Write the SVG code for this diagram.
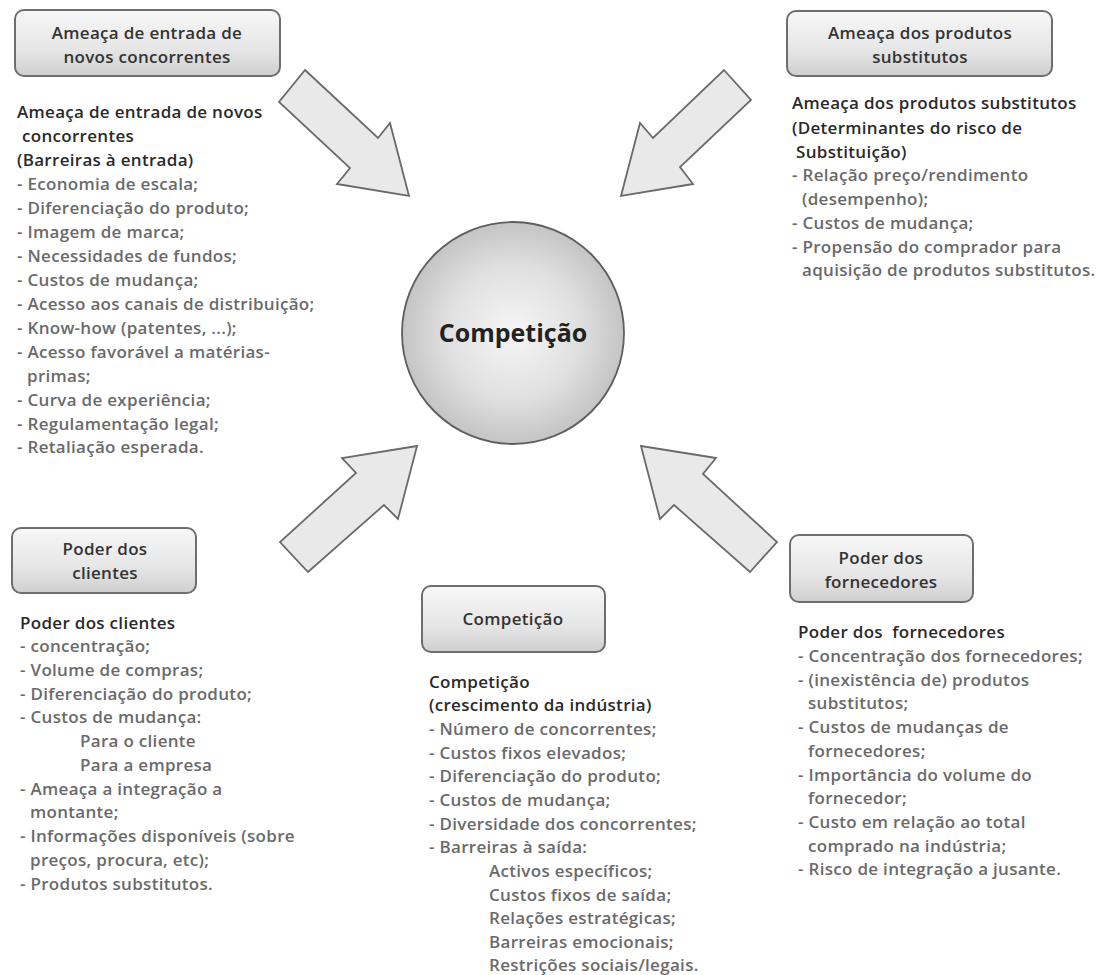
<svg xmlns="http://www.w3.org/2000/svg" width="1105" height="975" viewBox="0 0 1105 975">
<defs>
<linearGradient id="boxg" x1="0" y1="0" x2="0" y2="1">
<stop offset="0" stop-color="#f7f7f7"/>
<stop offset="0.6" stop-color="#e6e6e6"/>
<stop offset="1" stop-color="#cfcfcf"/>
</linearGradient>
<radialGradient id="circg" cx="0.5" cy="0.5" r="0.5">
<stop offset="0" stop-color="#f6f6f6"/>
<stop offset="0.6" stop-color="#e0e0e0"/>
<stop offset="1" stop-color="#c4c4c4"/>
</radialGradient>
<style>
.box{fill:url(#boxg);stroke:#6e6e6e;stroke-width:2}
.bt{font-family:"Open Sans","Liberation Sans",sans-serif;font-weight:600;font-size:17px;letter-spacing:0.3px;fill:#333;text-anchor:middle}
.h{font-family:"Open Sans","Liberation Sans",sans-serif;font-weight:600;font-size:17px;letter-spacing:0.3px;fill:#2a2a2a}
.i{font-family:"Open Sans","Liberation Sans",sans-serif;font-weight:600;font-size:17px;letter-spacing:0.3px;fill:#6a6a6a}
.arr{fill:#e9e9e9;stroke:#6a6a6a;stroke-width:1.8;stroke-linejoin:miter}
.ct{font-family:"Open Sans","Liberation Sans",sans-serif;font-weight:700;font-size:25px;fill:#222;text-anchor:middle}
</style>
</defs>
<rect width="1105" height="975" fill="#ffffff"/>

<g id="connectors">
<polygon class="arr" points="305,70 378,138 390,123 409,196 337,184 350,168 279,102"/>
<polygon class="arr" points="724,70 751,100 680,167 693,184 621,196 640,123 653,138"/>
<polygon class="arr" points="417,446 342,458 356,473 280,542 308,572 384,505 398,519"/>
<polygon class="arr" points="641,446 716,458 703,474 777,542 750,572 674,505 660,519"/>
</g>

<g id="center">
<circle cx="513" cy="333" r="111" fill="url(#circg)" stroke="#5e5e5e" stroke-width="1.8"/>
<text class="ct" x="513" y="342">Competição</text>
</g>

<g id="novos-concorrentes">
<rect class="box" x="15" y="10" width="265" height="66" rx="9"/>
<text class="bt" x="147" y="39">Ameaça de entrada de</text>
<text class="bt" x="147" y="63">novos concorrentes</text>
<text class="h" x="17" y="118">Ameaça de entrada de novos</text>
<text class="h" x="22" y="142">concorrentes</text>
<text class="h" x="17" y="166">(Barreiras à entrada)</text>
<text class="i" x="17" y="190">- Economia de escala;</text>
<text class="i" x="17" y="214">- Diferenciação do produto;</text>
<text class="i" x="17" y="238">- Imagem de marca;</text>
<text class="i" x="17" y="262">- Necessidades de fundos;</text>
<text class="i" x="17" y="286">- Custos de mudança;</text>
<text class="i" x="17" y="310">- Acesso aos canais de distribuição;</text>
<text class="i" x="17" y="334">- Know-how (patentes, ...);</text>
<text class="i" x="17" y="358">- Acesso favorável a matérias-</text>
<text class="i" x="27" y="382">primas;</text>
<text class="i" x="17" y="406">- Curva de experiência;</text>
<text class="i" x="17" y="430">- Regulamentação legal;</text>
<text class="i" x="17" y="453">- Retaliação esperada.</text>
</g>

<g id="substitutos">
<rect class="box" x="787" y="11" width="265" height="65" rx="9"/>
<text class="bt" x="920" y="39">Ameaça dos produtos</text>
<text class="bt" x="920" y="63">substitutos</text>
<text class="h" x="792" y="109">Ameaça dos produtos substitutos</text>
<text class="h" x="792" y="134">(Determinantes do risco de</text>
<text class="h" x="796" y="158">Substituição)</text>
<text class="i" x="792" y="181">- Relação preço/rendimento</text>
<text class="i" x="802" y="205">(desempenho);</text>
<text class="i" x="792" y="229">- Custos de mudança;</text>
<text class="i" x="792" y="253">- Propensão do comprador para</text>
<text class="i" x="802" y="276">aquisição de produtos substitutos.</text>
</g>

<g id="clientes">
<rect class="box" x="12" y="528" width="184" height="65" rx="9"/>
<text class="bt" x="105" y="555">Poder dos</text>
<text class="bt" x="105" y="579">clientes</text>
<text class="h" x="20" y="629">Poder dos clientes</text>
<text class="i" x="20" y="652">- concentração;</text>
<text class="i" x="20" y="676">- Volume de compras;</text>
<text class="i" x="20" y="700">- Diferenciação do produto;</text>
<text class="i" x="20" y="723">- Custos de mudança:</text>
<text class="i" x="80" y="747">Para o cliente</text>
<text class="i" x="80" y="771">Para a empresa</text>
<text class="i" x="20" y="795">- Ameaça a integração a</text>
<text class="i" x="30" y="818">montante;</text>
<text class="i" x="20" y="842">- Informações disponíveis (sobre</text>
<text class="i" x="30" y="866">preços, procura, etc);</text>
<text class="i" x="20" y="890">- Produtos substitutos.</text>
</g>

<g id="competicao">
<rect class="box" x="422" y="586" width="183" height="66" rx="9"/>
<text class="bt" x="513" y="625">Competição</text>
<text class="h" x="429" y="688">Competição</text>
<text class="h" x="429" y="711">(crescimento da indústria)</text>
<text class="i" x="429" y="735">- Número de concorrentes;</text>
<text class="i" x="429" y="759">- Custos fixos elevados;</text>
<text class="i" x="429" y="782">- Diferenciação do produto;</text>
<text class="i" x="429" y="806">- Custos de mudança;</text>
<text class="i" x="429" y="830">- Diversidade dos concorrentes;</text>
<text class="i" x="429" y="853">- Barreiras à saída:</text>
<text class="i" x="489" y="877">Activos específicos;</text>
<text class="i" x="489" y="901">Custos fixos de saída;</text>
<text class="i" x="489" y="924">Relações estratégicas;</text>
<text class="i" x="489" y="948">Barreiras emocionais;</text>
<text class="i" x="489" y="971">Restrições sociais/legais.</text>
</g>

<g id="fornecedores">
<rect class="box" x="790" y="535" width="183" height="67" rx="9"/>
<text class="bt" x="881" y="564">Poder dos</text>
<text class="bt" x="881" y="588">fornecedores</text>
<text class="h" x="798" y="638" xml:space="preserve">Poder dos  fornecedores</text>
<text class="i" x="798" y="662">- Concentração dos fornecedores;</text>
<text class="i" x="798" y="686">- (inexistência de) produtos</text>
<text class="i" x="808" y="709">substitutos;</text>
<text class="i" x="798" y="733">- Custos de mudanças de</text>
<text class="i" x="808" y="757">fornecedores;</text>
<text class="i" x="798" y="781">- Importância do volume do</text>
<text class="i" x="808" y="804">fornecedor;</text>
<text class="i" x="798" y="828">- Custo em relação ao total</text>
<text class="i" x="808" y="852">comprado na indústria;</text>
<text class="i" x="798" y="875">- Risco de integração a jusante.</text>
</g>
</svg>
